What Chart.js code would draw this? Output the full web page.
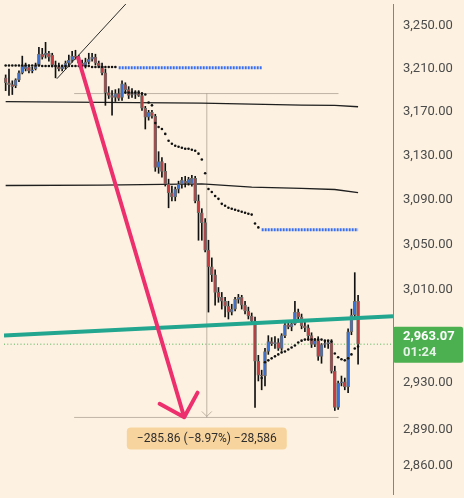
<!DOCTYPE html>
<html>
<head>
<meta charset="utf-8">
<script src="https://cdn.jsdelivr.net/npm/chart.js@4.4.1/dist/chart.umd.min.js"></script>
<style>
  html, body { margin: 0; padding: 0; background: #fdf2e1; }
  canvas { display: block; }
</style>
</head>
<body>
<canvas id="chart" width="464" height="498"></canvas>
<script>
// =========================
// DATA
// =========================
const slotCount = 117; // candle slots, incl. empty space right of the last bar

const opens = [3201.2, 3196.6, 3194.8, 3193.9, 3199.3, 3205.8, 3209.4, 3211.3, 3207.6, 3209.4,
  3213.1, 3223.2, 3222.3, 3224.1, 3222.3, 3213.1, 3211.3, 3209.4, 3211.3, 3214.9,
  3217.7, 3221.4, 3220.5, 3214.9, 3212.2, 3215.8, 3218.6, 3220.5, 3214.9, 3212.2,
  3205.8, 3187.5, 3184.8, 3183.0, 3186.6, 3183.0, 3194.8, 3190.2, 3187.5, 3185.7,
  3186.6, 3184.8, 3173.0, 3164.8, 3169.3, 3165.7, 3119.0, 3124.4, 3115.5, 3103.9,
  3096.0, 3092.4, 3099.5, 3103.9, 3106.6, 3104.8, 3103.9, 3109.2, 3088.9, 3078.3,
  3069.5, 3045.1, 3030.3, 3023.4, 3007.9, 3003.6, 3000.2, 2996.0, 2990.8, 2993.4,
  3001.9, 3003.6, 2996.8, 2991.7, 2987.4, 2983.1, 2948.4, 2936.6, 2935.8, 2956.8,
  2965.3, 2963.6, 2964.5, 2959.4, 2970.4, 2979.7, 2978.0, 2980.6, 2990.8, 2986.5,
  2978.9, 2977.2, 2970.4, 2962.8, 2966.1, 2952.6, 2962.8, 2963.6, 2964.5, 2940.0,
  2909.1, 2929.9, 2930.8, 2926.6, 2973.8, 2988.3, 3000.2];

const highs = [3203.9, 3209.4, 3198.4, 3200.3, 3207.6, 3221.4, 3214.9, 3213.1, 3211.3, 3214.9,
  3229.7, 3228.7, 3234.3, 3226.0, 3224.1, 3216.8, 3214.9, 3213.1, 3216.8, 3222.3,
  3226.0, 3226.9, 3222.3, 3217.7, 3219.5, 3224.1, 3224.1, 3223.2, 3216.8, 3214.9,
  3209.4, 3193.0, 3189.3, 3190.2, 3191.1, 3198.4, 3196.6, 3193.0, 3191.1, 3189.3,
  3189.3, 3187.5, 3174.8, 3171.1, 3171.1, 3167.5, 3133.3, 3128.0, 3122.6, 3108.4,
  3102.2, 3101.3, 3106.6, 3110.1, 3111.0, 3110.1, 3111.9, 3111.0, 3094.2, 3081.9,
  3073.1, 3053.8, 3038.2, 3027.8, 3012.2, 3007.9, 3003.6, 3000.2, 2997.6, 3003.6,
  3006.2, 3005.4, 3000.2, 2995.1, 2990.0, 2986.5, 2953.5, 2940.8, 2959.4, 2970.4,
  2968.7, 2969.5, 2967.8, 2972.1, 2983.1, 2983.1, 2983.1, 3000.2, 2993.4, 2989.1,
  2982.3, 2979.7, 2972.9, 2967.8, 2969.5, 2963.6, 2966.1, 2966.1, 2967.0, 2944.2,
  2931.6, 2935.8, 2934.1, 2976.3, 2993.4, 3025.2, 3005.4];

const lows = [3189.3, 3184.8, 3185.7, 3192.0, 3197.5, 3204.8, 3207.6, 3205.8, 3205.8, 3208.5,
  3212.2, 3218.6, 3219.5, 3216.8, 3211.3, 3201.2, 3207.6, 3207.6, 3209.4, 3213.1,
  3215.8, 3218.6, 3213.1, 3209.4, 3210.3, 3214.0, 3216.8, 3213.1, 3211.3, 3203.9,
  3175.7, 3182.0, 3166.6, 3179.3, 3180.2, 3180.2, 3187.5, 3182.0, 3183.0, 3182.0,
  3183.9, 3171.1, 3154.0, 3162.1, 3163.9, 3115.5, 3113.7, 3110.1, 3102.2, 3082.7,
  3088.9, 3088.9, 3096.0, 3100.4, 3101.3, 3103.0, 3102.2, 3087.1, 3053.8, 3053.8,
  3043.4, 2990.8, 3017.4, 2996.8, 2999.3, 2993.4, 2986.5, 2984.8, 2988.3, 2991.7,
  2998.5, 2993.4, 2989.1, 2984.8, 2981.4, 2909.1, 2931.6, 2924.1, 2927.4, 2954.3,
  2961.9, 2959.4, 2957.7, 2957.7, 2968.7, 2976.3, 2974.6, 2979.7, 2983.1, 2976.3,
  2973.8, 2967.8, 2960.2, 2961.0, 2949.2, 2946.7, 2960.2, 2959.4, 2938.3, 2906.6,
  2907.4, 2927.4, 2924.1, 2921.6, 2971.2, 2986.5, 2945.9];

const closes = [3196.6, 3194.8, 3193.0, 3199.3, 3205.8, 3212.2, 3213.1, 3207.6, 3208.5, 3212.2,
  3223.2, 3220.5, 3224.1, 3220.5, 3213.1, 3211.3, 3209.4, 3211.3, 3214.9, 3217.7,
  3221.4, 3220.5, 3214.9, 3212.2, 3215.8, 3218.6, 3220.5, 3214.9, 3212.2, 3205.8,
  3187.5, 3184.8, 3183.0, 3186.6, 3182.0, 3195.7, 3190.2, 3184.8, 3185.7, 3186.6,
  3184.8, 3173.0, 3164.8, 3169.3, 3165.7, 3119.0, 3124.4, 3115.5, 3103.9, 3096.0,
  3092.4, 3099.5, 3103.9, 3107.5, 3104.8, 3108.4, 3109.2, 3088.9, 3078.3, 3069.5,
  3045.1, 3030.3, 3023.4, 3007.9, 3003.6, 3000.2, 2996.0, 2990.8, 2993.4, 3001.9,
  3003.6, 2996.8, 2991.7, 2987.4, 2983.1, 2948.4, 2936.6, 2935.8, 2956.8, 2965.3,
  2963.6, 2964.5, 2959.4, 2970.4, 2979.7, 2978.0, 2980.6, 2990.8, 2986.5, 2978.9,
  2977.2, 2970.4, 2962.8, 2966.1, 2952.6, 2962.8, 2963.6, 2964.5, 2940.0, 2909.1,
  2929.9, 2930.8, 2926.6, 2973.8, 2988.3, 3000.2, 2963.07];

// stepped indicator dots (upper leg, then lower leg)
const dotsUpper = [
  3212.6, 3212.6, 3212.6, 3212.6, 3212.6, 3212.6, 3212.6, 3212.6, 3212.6, 3212.6, 3212.6,
  3212.2, 3212.2, 3212.2, 3212.2, 3212.2, 3212.2, 3212.2, 3212.2, 3212.2, 3212.2, 3212.2, 3212.2, 3212.2, 3212.2, 3212.2,
  3211.3, 3211.3, 3211.3, 3211.3, 3211.3, 3211.3, 3211.3, 3211.3,
  null, null,
  3187.5, 3187.5, 3187.5, 3187.5, 3187.5,
  3186.6, 3185.7, 3178.4, 3175.7, 3159.4, 3155.8, 3154.0, 3149.5, 3143.2, 3140.5,
  3138.7, 3137.8, 3136.9, 3136.0, 3136.0, 3135.1, 3134.2, 3131.5, 3126.2, 3113.7,
  3099.5, 3096.8, 3093.3, 3090.7, 3086.2, 3084.5, 3082.7, 3081.9, 3081.0, 3080.1,
  3079.2, 3078.3, 3077.4, 3076.6, 3068.7, 3065.2];
const dotsLowerStart = 77;
const dotsLower = [2934.1, 2947.6, 2949.2, 2950.9, 2952.6, 2954.3, 2956.0, 2956.8, 2958.5, 2960.2,
  2961.9, 2964.5, 2966.1, 2967.0, 2967.0, 2967.0, 2967.0, 2967.0, 2967.0, 2966.1,
  2966.1, 2965.3, 2955.1, 2951.8, 2950.1, 2949.2, 2950.9, 2954.3, 2959.4, 2961.0];

// blue dotted levels
const levelPrices = [3210.5, 3063.2];
const levelStart = [34, 77];
const levelEnd = [77, 106];

// slow averages (index, price)
const avgIdx = [0, 29, 59, 74, 89, 99, 106];
const avgHigh = [3179.1, 3178.5, 3177.8, 3176.9, 3176.0, 3175.7, 3174.4];
const avgLow = [3102.7, 3103.0, 3104.2, 3101.3, 3100.1, 3099.1, 3096.2];

// drawings (candle index, price)
const trendLine = [[15.4, 3200.3], [38.2, 3277.6]];
const supportLine = [[0, 2970.7], [116, 2987.2]];
const arrowLine = [[21.8, 3219.6], [53.7, 2900.9]];
const measureTop = 3186.60;
const measureBottom = 2900.74;
const measureFrom = 20.6;
const measureTo = 100.1;
const measureAt = 60.5;

const tickValues = [3250, 3210, 3170, 3130, 3090, 3050, 3010, 2970, 2930, 2890, 2860];
const countdown = "01:24";

// =========================
// BUILD
// =========================
const labels = Array.from({ length: slotCount }, (_, i) => "c" + i);
const lastPrice = closes[closes.length - 1];

const bodies = opens.map((o, i) => [o, closes[i]]);
const wicks = lows.map((l, i) => [l, highs[i]]);
const bodyColors = opens.map((o, i) => (closes[i] >= o ? "#3574e3" : "#c63b3f"));

function sparse(idx, vals) {
  const arr = new Array(slotCount).fill(null);
  idx.forEach((k, j) => { arr[k] = vals[j]; });
  return arr;
}
function level(k) {
  const arr = new Array(slotCount).fill(null);
  for (let i = levelStart[k]; i <= levelEnd[k]; i++) arr[i] = levelPrices[k];
  return arr;
}
const lowerDots = new Array(dotsLowerStart).fill(null).concat(dotsLower);

const fmt = v => v.toLocaleString("en-US", { minimumFractionDigits: 2, maximumFractionDigits: 2 });
const minus = s => s.replace(/-/g, "\u2212");

// =========================
// OVERLAY DRAWINGS
// =========================
const overlay = {
  id: "overlay",
  beforeDatasetsDraw(chart) {
    const { ctx, chartArea: a, scales: { x, y } } = chart;
    ctx.save();
    // last price dotted line
    const py = y.getPixelForValue(lastPrice);
    ctx.strokeStyle = "#4caf50";
    ctx.lineWidth = 1;
    ctx.setLineDash([1, 2.3]);
    ctx.beginPath();
    ctx.moveTo(a.left, py);
    ctx.lineTo(a.right, py);
    ctx.stroke();
    ctx.setLineDash([]);

    // measure box lines
    const x1 = x.getPixelForValue(measureFrom);
    const x2 = x.getPixelForValue(measureTo);
    const xm = x.getPixelForValue(measureAt);
    const yt = y.getPixelForValue(measureTop);
    const yb = y.getPixelForValue(measureBottom);
    ctx.strokeStyle = "rgba(140,128,116,0.55)";
    ctx.beginPath();
    ctx.moveTo(x1, yt); ctx.lineTo(x2, yt);
    ctx.moveTo(x1, yb); ctx.lineTo(x2, yb);
    ctx.moveTo(xm, yt); ctx.lineTo(xm, yb);
    ctx.moveTo(xm - 5, yb - 6); ctx.lineTo(xm, yb - 1); ctx.lineTo(xm + 5, yb - 6);
    ctx.stroke();
    ctx.restore();
  },
  afterDatasetsDraw(chart) {
    const { ctx, chartArea: a, scales: { x, y } } = chart;
    const pt = p => [x.getPixelForValue(p[0]), y.getPixelForValue(p[1])];
    ctx.save();
    ctx.beginPath();
    ctx.rect(a.left, a.top, a.width, a.height);
    ctx.clip();

    // support line, extended to both edges
    const [s1x, s1y] = pt(supportLine[0]);
    const [s2x, s2y] = pt(supportLine[1]);
    const k = (s2y - s1y) / (s2x - s1x);
    ctx.strokeStyle = "#22a68f";
    ctx.lineWidth = 4;
    ctx.beginPath();
    ctx.moveTo(a.left, s1y + k * (a.left - s1x));
    ctx.lineTo(a.right, s1y + k * (a.right - s1x));
    ctx.stroke();

    // thin trend line
    const [t1x, t1y] = pt(trendLine[0]);
    const [t2x, t2y] = pt(trendLine[1]);
    ctx.strokeStyle = "#2b2b2b";
    ctx.lineWidth = 1;
    ctx.beginPath();
    ctx.moveTo(t1x, t1y);
    ctx.lineTo(t2x, t2y);
    ctx.stroke();

    // pink arrow
    const [a1x, a1y] = pt(arrowLine[0]);
    const [a2x, a2y] = pt(arrowLine[1]);
    const ang = Math.atan2(a1y - a2y, a1x - a2x);
    const head = 28;
    ctx.strokeStyle = "#ee2f6d";
    ctx.lineWidth = 4;
    ctx.lineCap = "round";
    ctx.lineJoin = "round";
    ctx.beginPath();
    ctx.moveTo(a1x, a1y);
    ctx.lineTo(a2x, a2y);
    ctx.moveTo(a2x + head * Math.cos(ang - Math.PI / 4), a2y + head * Math.sin(ang - Math.PI / 4));
    ctx.lineTo(a2x, a2y);
    ctx.lineTo(a2x + head * Math.cos(ang + Math.PI / 4), a2y + head * Math.sin(ang + Math.PI / 4));
    ctx.stroke();

    // measure label
    const diff = measureBottom - measureTop;
    const pct = diff / measureTop * 100;
    const ticks = Math.round(diff * 100);
    const text = minus(diff.toFixed(2)) + " (" + minus(pct.toFixed(2)) + "%) " + minus(ticks.toLocaleString("en-US"));
    const xm = x.getPixelForValue(measureAt);
    const yb = y.getPixelForValue(measureBottom);
    ctx.font = "12px Roboto";
    const w = ctx.measureText(text).width + 20;
    ctx.fillStyle = "#f7d39d";
    ctx.beginPath();
    ctx.roundRect(xm - w / 2, yb + 10, w, 22, 4);
    ctx.fill();
    ctx.fillStyle = "#2e2e2e";
    ctx.textAlign = "center";
    ctx.textBaseline = "middle";
    ctx.fillText(text, xm, yb + 21.5);
    ctx.restore();
  },
  afterDraw(chart) {
    const { ctx, chartArea: a, scales: { y } } = chart;
    const py = y.getPixelForValue(lastPrice);
    ctx.save();
    ctx.fillStyle = "#4caf50";
    ctx.beginPath();
    ctx.roundRect(a.right, py - 17.5, 70, 36, 2);
    ctx.fill();
    ctx.fillStyle = "#ffffff";
    ctx.textBaseline = "middle";
    ctx.font = "bold 13px Roboto";
    ctx.fillText(fmt(lastPrice), a.right + 10, py - 7.5);
    ctx.fillStyle = "rgba(255,255,255,0.85)";
    ctx.fillText(countdown, a.right + 10, py + 9);
    ctx.restore();
  }
};

// =========================
// CHART
// =========================
new Chart(document.getElementById("chart"), {
  type: "bar",
  data: {
    labels: labels,
    datasets: [
      { type: "line", data: dotsUpper, showLine: false, pointRadius: 1.3, pointBackgroundColor: "#111", pointBorderWidth: 0, order: 0 },
      { type: "line", data: lowerDots, showLine: false, pointRadius: 1.3, pointBackgroundColor: "#111", pointBorderWidth: 0, order: 0 },
      { type: "line", data: level(0), borderColor: "#3a6ff0", borderWidth: 3, borderDash: [2, 1], pointRadius: 0, order: 1 },
      { type: "line", data: level(1), borderColor: "#3a6ff0", borderWidth: 3, borderDash: [2, 1], pointRadius: 0, order: 1 },
      { data: bodies, backgroundColor: bodyColors, borderColor: "#6e6a66", borderWidth: 1, borderSkipped: false,
        barThickness: 3, grouped: false, minBarLength: 1, order: 2 },
      { data: wicks, backgroundColor: "#111", borderWidth: 0, barThickness: 1, grouped: false, order: 3 },
      { type: "line", data: sparse(avgIdx, avgHigh), borderColor: "#1f1f1f", borderWidth: 1.3, pointRadius: 0, spanGaps: true, order: 4 },
      { type: "line", data: sparse(avgIdx, avgLow), borderColor: "#1f1f1f", borderWidth: 1.3, pointRadius: 0, spanGaps: true, order: 4 }
    ]
  },
  options: {
    responsive: false,
    animation: false,
    layout: { padding: 0 },
    plugins: { legend: { display: false }, tooltip: { enabled: false } },
    scales: {
      x: { display: false, offset: true },
      y: {
        type: "logarithmic",
        position: "right",
        min: 2837,
        max: 3270.5,
        afterBuildTicks: s => { s.ticks = tickValues.map(v => ({ value: v })); },
        afterFit: s => { s.width = 71; s.paddingTop = 0; s.paddingBottom = 0; },
        grid: { display: false, drawTicks: false },
        border: { display: true, color: "#8c8279", width: 1 },
        ticks: { padding: 10, color: "#4b4b4b", font: { family: "Roboto", size: 13 }, autoSkip: false,
          callback: v => fmt(v) }
      }
    }
  },
  plugins: [overlay]
});
</script>
</body>
</html>
